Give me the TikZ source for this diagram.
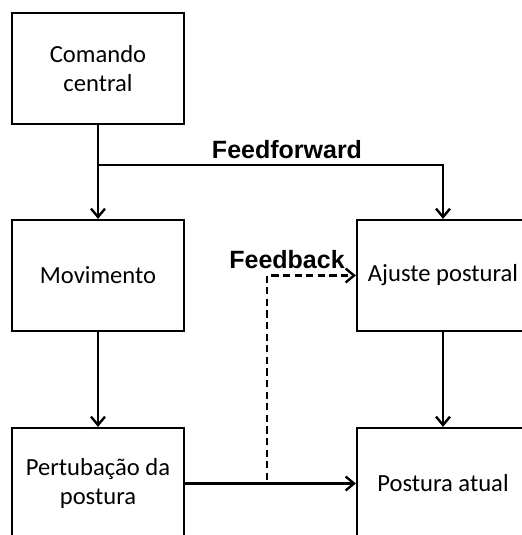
\documentclass[tikz,border=0pt]{standalone}
\usepackage{fontspec}
\setmainfont{Carlito}
\newfontfamily\labelfont{Liberation Sans}
\usetikzlibrary{arrows.meta}
\begin{document}
\begin{tikzpicture}[x=0.5pt, y=-0.5pt,
        block/.style={draw, line width=1.1pt, align=center, minimum width=86pt, minimum height=55.5pt, inner sep=2pt, font=\fontsize{12.3}{14.8}\selectfont},
        arrow/.style={-{Straight Barb[length=4.2pt, width=7pt, line width=1.2pt]}, line width=1.2pt},
        dasharrow/.style={arrow, dash pattern=on 3.6pt off 2.2pt},
        flowlabel/.style={font=\labelfont\bfseries\fontsize{12.5}{14}\selectfont, inner sep=0pt}
        ]
        \useasboundingbox (0,0) rectangle (522,535);
        \clip (0,0) rectangle (522,535);
        \fill[white] (0,0) rectangle (522,535);
        
        \node[block] (comando) at (98,68.5) {Comando\\central};
        \node[block] (movimento) at (98,275.5) {Movimento};
        \node[block] (ajuste) at (443,275.5) {Ajuste postural};
        \node[block] (perturb) at (98,483.5) {Pertubação da\\postura};
        \node[block] (postura) at (443,483.5) {Postura atual};
        
        \coordinate (branch) at (98,165);
        \coordinate (fbstart) at (267,480);
        
        \draw[arrow] (comando) -- (movimento);
        \draw[arrow] (branch) -| (ajuste.north);
        \draw[arrow] (movimento) -- (perturb);
        \draw[arrow] (ajuste) -- (postura);
        \draw[arrow] (perturb) -- (postura);
        \draw[dasharrow] (fbstart) |- (ajuste.west);
        
        \node[flowlabel] (ffwd) at (287,150) {Feedforward};
        \node[flowlabel] (fback) at (287,260) {Feedback};
    \end{tikzpicture}
\end{document}
